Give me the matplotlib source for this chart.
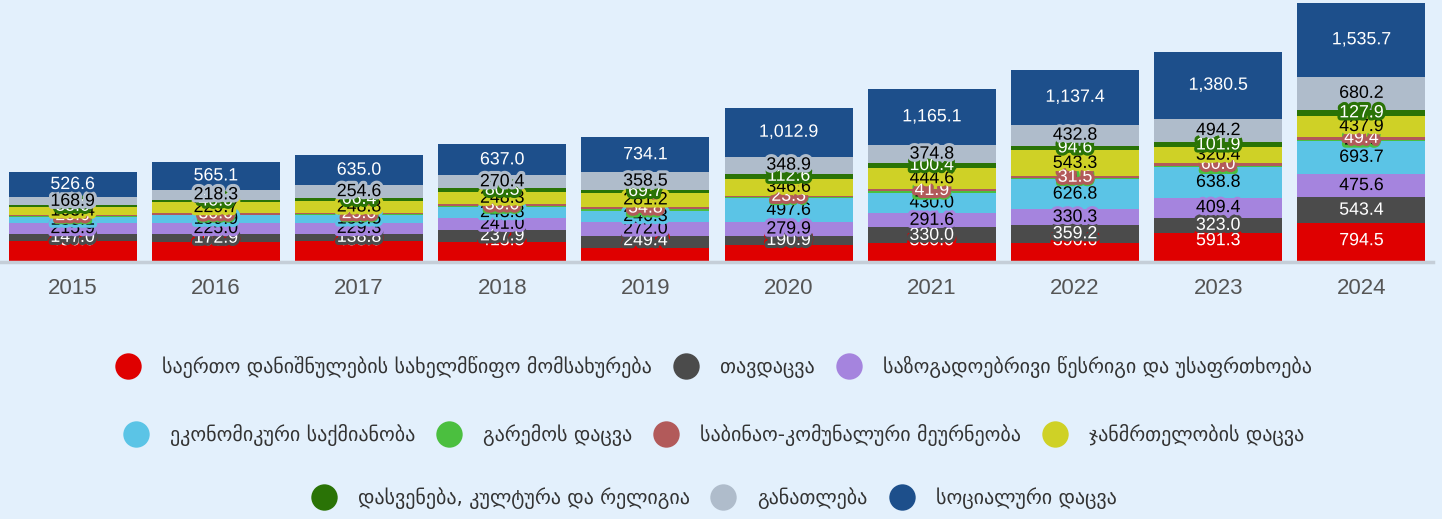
# Stacked budget bars by function, 2015-2024, with value labels inside each segment
import matplotlib.pyplot as plt
import matplotlib.patheffects as pe
from matplotlib.lines import Line2D
import numpy as np

years = ['2015', '2016', '2017', '2018', '2019', '2020', '2021', '2022', '2023', '2024']

series_names = [
    'საერთო დანიშნულების სახელმწიფო მომსახურება',
    'თავდაცვა',
    'საზოგადოებრივი წესრიგი და უსაფრთხოება',
    'ეკონომიკური საქმიანობა',
    'გარემოს დაცვა',
    'საბინაო-კომუნალური მეურნეობა',
    'ჯანმრთელობის დაცვა',
    'დასვენება, კულტურა და რელიგია',
    'განათლება',
    'სოციალური დაცვა',
]

general = [430.0, 400.0, 435.0, 415.5, 290.0, 345.0, 380.0, 396.6, 591.3, 794.5]
defense = [147.0, 172.9, 138.8, 237.9, 249.4, 190.9, 330.0, 359.2, 323.0, 543.4]
public_order = [215.9, 225.0, 229.3, 241.0, 272.0, 279.9, 291.6, 330.3, 409.4, 475.6]
economic = [133.1, 159.9, 159.5, 243.8, 246.3, 497.6, 430.0, 626.8, 638.8, 693.7]
environment = [15.2, 16.8, 19.6, 21.3, 24.7, 28.4, 21.5, 19.8, 22.1, 21.6]
housing = [25.0, 30.0, 25.0, 30.0, 54.8, 23.5, 41.9, 31.5, 60.0, 49.4]
health = [163.4, 229.7, 248.8, 248.3, 281.2, 346.6, 444.6, 543.3, 320.4, 437.9]
recreation = [35.0, 40.0, 66.4, 80.5, 69.7, 112.6, 100.4, 94.6, 101.9, 127.9]
education = [168.9, 218.3, 254.6, 270.4, 358.5, 348.9, 374.8, 432.8, 494.2, 680.2]
social = [526.6, 565.1, 635.0, 637.0, 734.1, 1012.9, 1165.1, 1137.4, 1380.5, 1535.7]

series_values = [general, defense, public_order, economic, environment,
                 housing, health, recreation, education, social]

colors = ['#DF0000', '#4B4B4B', '#A584DE', '#5BC4E6', '#4BBF3F',
          '#B25A5A', '#CFD126', '#2A7306', '#AFBCCB', '#1D4F8B']
label_colors = ['white', 'white', 'black', 'black', 'black',
                'white', 'black', 'white', 'black', 'white']

bg = '#E3F0FC'
W, H = 1442, 519
fig = plt.figure(figsize=(W / 100, H / 100), dpi=100, facecolor=bg)

# plot area in pixels: x from 1 to 1433, bars from baseline y=261.7 up to y=2.7
ax_h_px = 259
ax = fig.add_axes([1 / W, (H - 261.7) / H, 1432 / W, ax_h_px / H])
ax.set_facecolor(bg)

x = np.arange(len(years))
totals = np.sum(series_values, axis=0)
ymax = totals.max()
# labels are kept at least ~21 px above the axis line
min_label_y = 21 * ymax / ax_h_px

bottom = np.zeros(len(years))
for i, (vals, c) in enumerate(zip(series_values, colors)):
    vals = np.array(vals)
    ax.bar(x, vals, bottom=bottom, width=0.894, color=c, linewidth=0, zorder=2)
    for xi, b, v in zip(x, bottom, vals):
        ax.text(xi, max(b + v / 2, min_label_y), f'{v:,.1f}', ha='center', va='center',
                fontsize=12.8, family='Liberation Sans', color=label_colors[i],
                zorder=10 + i,
                path_effects=[pe.withStroke(linewidth=4.5, foreground=c)])
    bottom += vals

ax.set_xlim(-0.5, len(years) - 0.5)
ax.set_ylim(0, ymax)
for s in ['top', 'right', 'left']:
    ax.spines[s].set_visible(False)
ax.spines['bottom'].set_color('#C5CED8')
ax.spines['bottom'].set_linewidth(2.5)
ax.spines['bottom'].set_bounds(-0.5, len(years) - 0.5)
ax.set_yticks([])
ax.set_xticks(x)
ax.set_xticklabels(years, fontsize=16, family='Liberation Sans', color='#555555')
ax.tick_params(axis='x', length=0, pad=12)

# legend: three centred rows
rows = [[0, 1, 2], [3, 4, 5, 6], [7, 8, 9]]
row_y = [(H - 367) / H, (H - 435) / H, (H - 498) / H]
for idx, yy in zip(rows, row_y):
    handles = [Line2D([], [], marker='o', linestyle='', markersize=19,
                      markerfacecolor=colors[k], markeredgewidth=0) for k in idx]
    leg = fig.legend(handles, [series_names[k] for k in idx], loc='center',
                     bbox_to_anchor=(715 / W, yy), ncol=len(idx), frameon=False,
                     fontsize=14.4, handlelength=1.0, handletextpad=1.2,
                     columnspacing=1.2, borderpad=0)
    for t in leg.get_texts():
        t.set_color('#333333')
        t.set_family('DejaVu Sans')

fig.savefig('out.png', dpi=100, facecolor=bg)
